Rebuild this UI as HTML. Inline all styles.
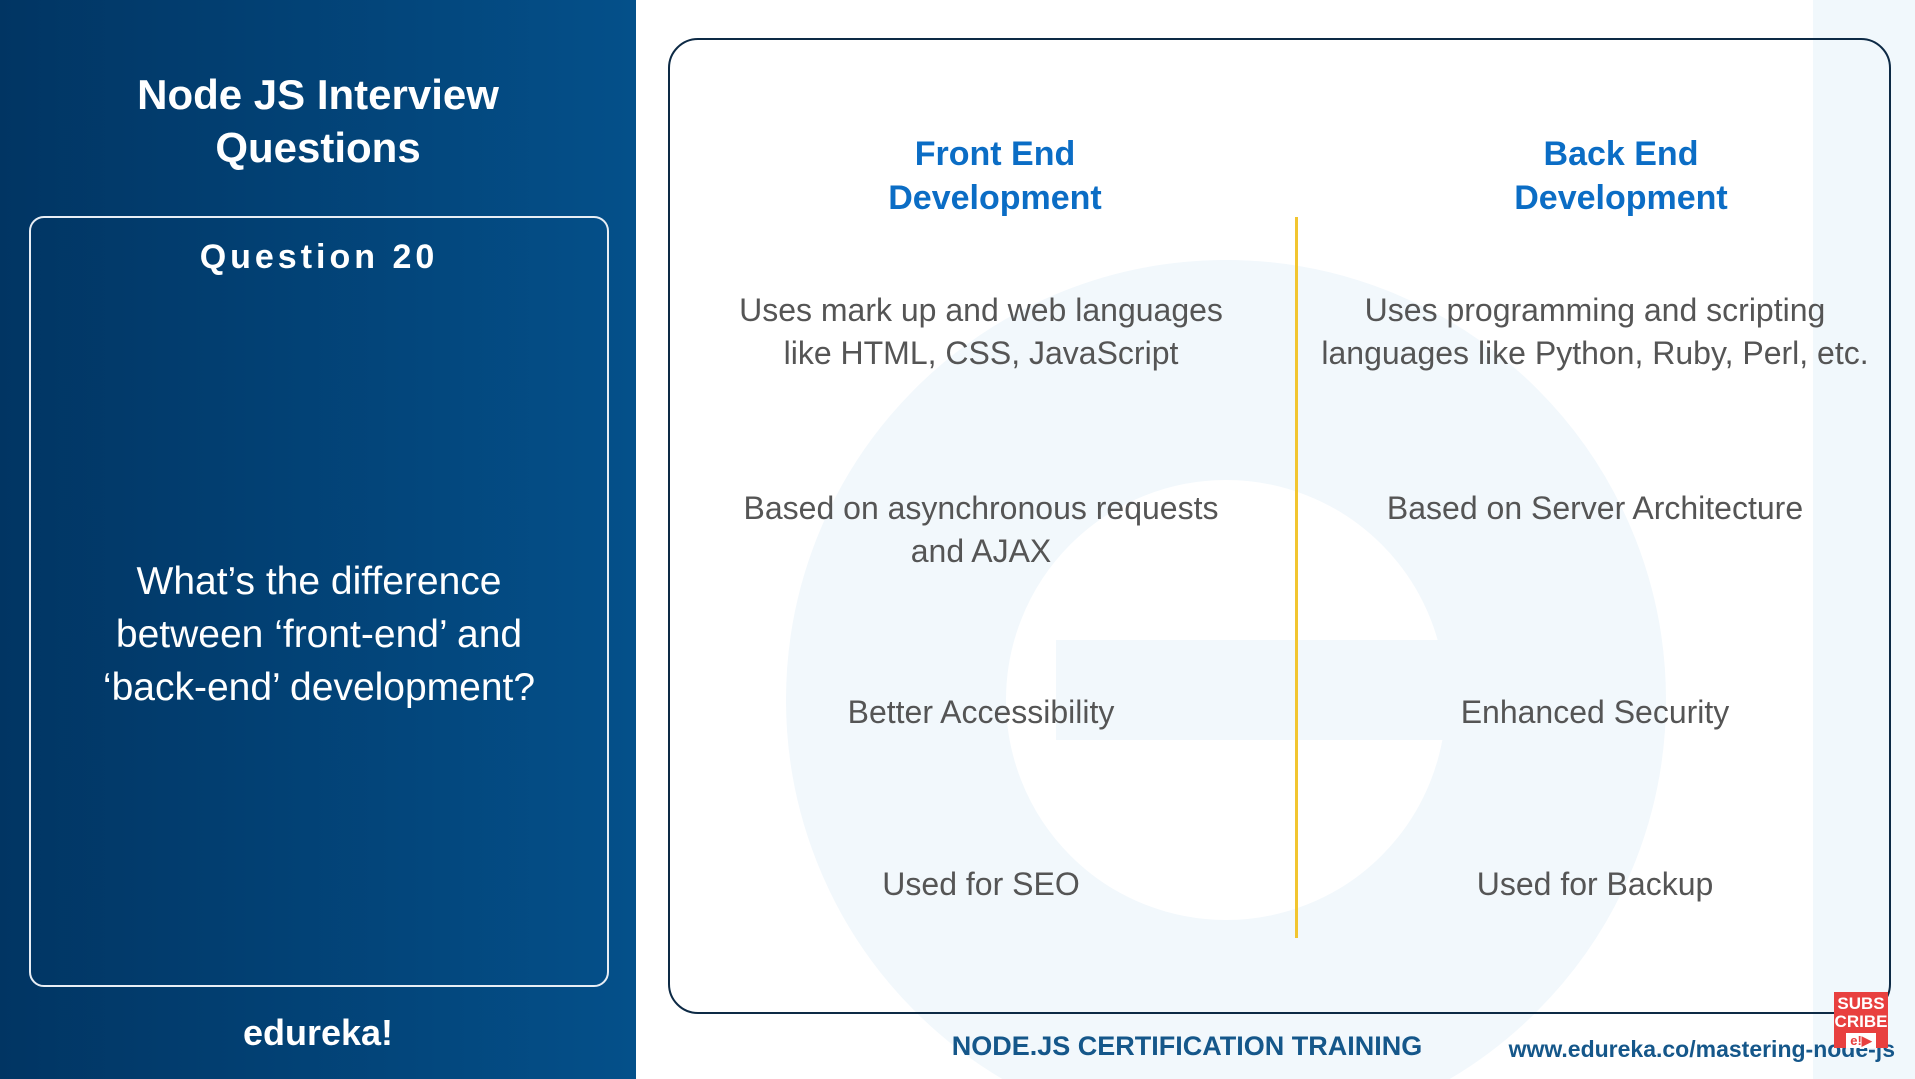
<!DOCTYPE html>
<html><head><meta charset="utf-8"><style>
*{margin:0;padding:0;box-sizing:border-box}
body{width:1915px;height:1079px;position:relative;overflow:hidden;background:#fff;font-family:"Liberation Sans",sans-serif}
.abs{position:absolute}
.left{left:0;top:0;width:636px;height:1079px;background:linear-gradient(90deg,#013563 0%,#04508a 100%)}
.c{text-align:center}
.w{color:#fff}
.body{color:#555;font-size:32px;line-height:43px;text-align:center;width:620px}
</style></head><body>
<div class="abs" style="left:1813px;top:0;width:102px;height:1079px;background:#f1f8fc"></div>
<svg class="abs" style="left:636px;top:0" width="1279" height="1079">
<circle cx="590" cy="700" r="330" fill="none" stroke="#f2f8fc" stroke-width="220"/>
<rect x="420" y="640" width="600" height="100" fill="#f2f8fc"/>
</svg>
<div class="abs left"></div>
<div class="abs w c" style="left:0;top:68px;width:636px;font-size:42px;font-weight:bold;line-height:53px">Node JS Interview<br>Questions</div>
<div class="abs" style="left:29px;top:216px;width:580px;height:771px;border:2px solid #e8eef5;border-radius:15px"></div>
<div class="abs w c" style="left:29px;top:238px;width:580px;font-size:34px;font-weight:bold;letter-spacing:4px">Question 20</div>
<div class="abs w c" style="left:29px;top:555px;width:580px;font-size:39px;line-height:53px">What’s the difference<br>between ‘front-end’ and<br>‘back-end’ development?</div>
<div class="abs w c" style="left:0;top:1012px;width:636px;font-size:36px;font-weight:bold">edureka!</div>

<div class="abs" style="left:668px;top:38px;width:1223px;height:976px;border:2px solid #0d2a45;border-radius:30px"></div>
<div class="abs c" style="left:745px;top:132px;width:500px;font-size:34px;font-weight:bold;color:#0b6dc5;line-height:44px">Front End<br>Development</div>
<div class="abs c" style="left:1371px;top:132px;width:500px;font-size:34px;font-weight:bold;color:#0b6dc5;line-height:44px">Back End<br>Development</div>
<div class="abs" style="left:1295px;top:217px;width:3px;height:721px;background:#f2c530"></div>

<div class="abs body" style="left:671px;top:289px">Uses mark up and web languages<br>like HTML, CSS, JavaScript</div>
<div class="abs body" style="left:671px;top:487px">Based on asynchronous requests<br>and AJAX</div>
<div class="abs body" style="left:671px;top:691px">Better Accessibility</div>
<div class="abs body" style="left:671px;top:863px">Used for SEO</div>
<div class="abs body" style="left:1285px;top:289px;width:620px">Uses programming and scripting<br>languages like Python, Ruby, Perl, etc.</div>
<div class="abs body" style="left:1285px;top:487px">Based on Server Architecture</div>
<div class="abs body" style="left:1285px;top:691px">Enhanced Security</div>
<div class="abs body" style="left:1285px;top:863px">Used for Backup</div>

<div class="abs c" style="left:887px;top:1031px;width:600px;font-size:27px;font-weight:bold;color:#15578a">NODE.JS CERTIFICATION TRAINING</div>
<div class="abs" style="right:20px;top:1036px;font-size:23px;font-weight:bold;color:#15578a">www.edureka.co/mastering-node-js</div>
<div class="abs c" style="left:1834px;top:992px;width:54px;height:56px;background:#e8403f;color:#fff;font-size:17px;font-weight:bold;line-height:18px;padding-top:3px">SUBS<br>CRIBE<br><span style="background:#fff;color:#e8403f;font-size:13px;padding:0 4px">e!▶</span></div>
</body></html>
